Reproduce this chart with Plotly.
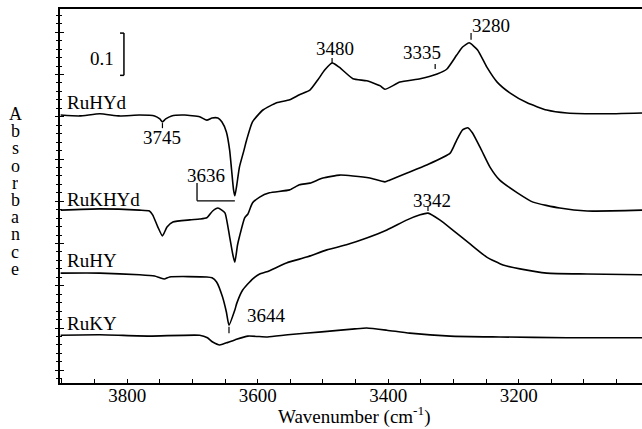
import plotly.graph_objects as go

# ---------------- data ----------------
# wavenumber (cm-1) and absorbance (offset spectra, arbitrary zero)
wn_ruhyd = [3902, 3873, 3842, 3812, 3781, 3758, 3750, 3746, 3741, 3732, 3712, 3689, 3678, 3670, 3661,
            3655, 3648, 3643, 3640, 3637, 3635, 3632, 3628, 3621, 3617, 3608, 3592, 3571, 3551, 3536,
            3520, 3508, 3497, 3486, 3482, 3474, 3454, 3433, 3412, 3405, 3382, 3351, 3325, 3310, 3295,
            3286, 3276, 3263, 3249, 3233, 3213, 3187, 3157, 3126, 3071, 3011]
a_ruhyd = [0.634, 0.632, 0.637, 0.632, 0.634, 0.632, 0.625, 0.618, 0.625, 0.632, 0.634, 0.630, 0.622, 0.627, 0.627,
           0.618, 0.594, 0.551, 0.504, 0.457, 0.443, 0.469, 0.511, 0.551, 0.575, 0.618, 0.646, 0.663, 0.670, 0.682,
           0.693, 0.717, 0.741, 0.757, 0.755, 0.746, 0.720, 0.715, 0.703, 0.695, 0.712, 0.720, 0.731, 0.743, 0.776,
           0.795, 0.805, 0.788, 0.748, 0.712, 0.686, 0.663, 0.646, 0.639, 0.637, 0.639]

wn_rukhyd = [3902, 3842, 3781, 3766, 3761, 3753, 3746, 3739, 3730, 3704, 3689, 3678, 3669, 3661, 3655,
             3650, 3643, 3638, 3635, 3631, 3628, 3620, 3615, 3608, 3597, 3582, 3551, 3536, 3520, 3500,
             3474, 3454, 3428, 3405, 3398, 3371, 3341, 3305, 3295, 3286, 3278, 3271, 3257, 3244, 3229,
             3202, 3178, 3137, 3095, 3011]
a_rukhyd = [0.409, 0.412, 0.409, 0.407, 0.398, 0.369, 0.348, 0.369, 0.381, 0.386, 0.388, 0.391, 0.407, 0.414, 0.409,
            0.402, 0.346, 0.303, 0.286, 0.326, 0.346, 0.391, 0.400, 0.426, 0.440, 0.450, 0.457, 0.469, 0.473, 0.485,
            0.492, 0.490, 0.485, 0.476, 0.480, 0.497, 0.516, 0.544, 0.575, 0.599, 0.604, 0.592, 0.551, 0.511, 0.480,
            0.450, 0.428, 0.414, 0.407, 0.409]

wn_ruhy = [3902, 3842, 3781, 3758, 3750, 3743, 3735, 3678, 3670, 3663, 3654, 3648, 3644, 3635, 3632,
           3623, 3608, 3597, 3586, 3556, 3525, 3494, 3464, 3433, 3402, 3371, 3351, 3339, 3321, 3301,
           3276, 3249, 3224, 3198, 3157, 3095, 3011]
a_ruhy = [0.260, 0.260, 0.256, 0.253, 0.249, 0.246, 0.251, 0.251, 0.249, 0.239, 0.204, 0.168, 0.137, 0.173, 0.189,
          0.220, 0.246, 0.258, 0.263, 0.284, 0.298, 0.315, 0.327, 0.343, 0.362, 0.386, 0.398, 0.402, 0.386, 0.362,
          0.331, 0.298, 0.279, 0.270, 0.260, 0.258, 0.256]

wn_ruky = [3902, 3842, 3766, 3689, 3677, 3669, 3658, 3648, 3635, 3615, 3585, 3554, 3502, 3451, 3433,
           3402, 3367, 3305, 3229, 3126, 3011]
a_ruky = [0.113, 0.114, 0.111, 0.113, 0.107, 0.097, 0.090, 0.095, 0.102, 0.111, 0.109, 0.114, 0.121, 0.128, 0.130,
          0.125, 0.118, 0.111, 0.109, 0.107, 0.107]

sample_names = ["RuHYd", "RuKHYd", "RuHY", "RuKY"]
peak_labels = ["3745", "3480", "3335", "3280", "3342", "3644", "3636"]
x_ticks = [3800, 3600, 3400, 3200]
scale_bar_value = 0.1
x_title = "Wavenumber (cm<sup>-1</sup>)"
y_title = "Absorbance"

FONT = "Liberation Serif"
series = [(wn_ruhyd, a_ruhyd), (wn_rukhyd, a_rukhyd), (wn_ruhy, a_ruhy), (wn_ruky, a_ruky)]

fig = go.Figure()
for i, (name, (x, y)) in enumerate(zip(sample_names, series)):
    fig.add_trace(go.Scatter(x=x, y=y, mode="lines", name=name, showlegend=False,
                             line=dict(color="black", width=1.6, shape="spline", smoothing=0.5),
                             yaxis="y2" if i == 3 else "y"))

# sample labels (left)
name_pos = [0.664, 0.435, 0.289, 0.140]
for name, yy in zip(sample_names, name_pos):
    fig.add_annotation(x=3896, y=yy, text=name, showarrow=False, xanchor="left", yanchor="middle",
                       font=dict(size=19, family=FONT, color="black"))

# peak labels
peak_pos = [(3746, 0.582), (3482, 0.791), (3348, 0.781), (3243, 0.846), (3333, 0.433), (3587, 0.160), (3680, 0.492)]
for t, (xx, yy) in zip(peak_labels, peak_pos):
    fig.add_annotation(x=xx, y=yy, text=t, showarrow=False, xanchor="center", yanchor="middle",
                       font=dict(size=19, family=FONT, color="black"))

# peak tick marks
tick_marks = [(3746, 0.615, 0.603), (3486, 0.769, 0.757), (3328, 0.755, 0.743), (3273, 0.828, 0.812),
              (3339, 0.417, 0.407), (3644, 0.133, 0.118)]
for xx, y0, y1 in tick_marks:
    fig.add_shape(type="line", x0=xx, x1=xx, y0=y0, y1=y1, xref="x", yref="y",
                  line=dict(color="black", width=1.2))

# 3636 bracket
fig.add_shape(type="line", x0=3693, x1=3693, y0=0.473, y1=0.431, line=dict(color="black", width=1.3))
fig.add_shape(type="line", x0=3693, x1=3635, y0=0.431, y1=0.431, line=dict(color="black", width=1.3))

# scale bar 0.1
sb_top = 0.828
fig.add_shape(type="line", x0=3805, x1=3805, y0=sb_top, y1=sb_top - scale_bar_value, line=dict(color="black", width=1.5))
fig.add_shape(type="line", x0=3811, x1=3805, y0=sb_top, y1=sb_top, line=dict(color="black", width=1.5))
fig.add_shape(type="line", x0=3811, x1=3805, y0=sb_top - scale_bar_value, y1=sb_top - scale_bar_value,
              line=dict(color="black", width=1.5))
fig.add_annotation(x=3839, y=0.768, text=str(scale_bar_value), showarrow=False, xanchor="center", yanchor="middle",
                   font=dict(size=19, family=FONT, color="black"))

# vertical stacked y-axis title
for k, ch in enumerate(y_title):
    base_px = 120 + 17.2 * k
    yc = (383 - (base_px - 6)) / 374
    fig.add_annotation(x=-45 / 582, y=yc, xref="paper", yref="paper", text=ch, showarrow=False,
                       xanchor="center", yanchor="middle", height=16, valign="middle",
                       font=dict(size=18, family=FONT, color="black"))

# x-axis title
fig.add_annotation(x=(354 - 60) / 582, y=(383 - 416) / 374, xref="paper", yref="paper", text=x_title,
                   showarrow=False, xanchor="center", yanchor="middle",
                   font=dict(size=19, family=FONT, color="black"))

fig.update_layout(
    width=642, height=429,
    margin=dict(l=60, r=0, t=9, b=46, autoexpand=False),
    paper_bgcolor="white", plot_bgcolor="white",
    font=dict(family=FONT, size=19, color="black"),
    xaxis=dict(range=[3903, 3011], autorange=False, showgrid=False, zeroline=False,
               showline=True, linecolor="black", linewidth=2, mirror=True,
               tickmode="array", tickvals=x_ticks, ticktext=[str(v) for v in x_ticks],
               ticks="inside", ticklen=4, tickwidth=1, tickcolor="black",
               ticklabelstandoff=-6,
               minor=dict(dtick=50, tick0=3800, ticks="inside", ticklen=4, tickwidth=1, tickcolor="black"),
               tickfont=dict(size=19, family=FONT)),
    yaxis=dict(range=[0, 0.885], autorange=False, showgrid=False, zeroline=False,
               showline=True, linecolor="black", linewidth=2,
               tick0=0.03, dtick=0.1, ticks="outside", ticklen=3, tickwidth=1, tickcolor="black",
               showticklabels=False,
               minor=dict(dtick=0.02, tick0=0.03, ticks="outside", ticklen=2, tickwidth=1, tickcolor="black")),
    yaxis2=dict(overlaying="y", matches="y", side="left", anchor="x", showgrid=False, zeroline=False,
                showline=False, tick0=0.03, dtick=0.1, ticks="inside", ticklen=4, tickwidth=1,
                tickcolor="black", showticklabels=False,
                minor=dict(dtick=0.02, tick0=0.03, ticks="inside", ticklen=2, tickwidth=1, tickcolor="black")),
)

fig.write_html("out.html", config={"displayModeBar": False},
               post_script="document.body.style.margin='0px';")
